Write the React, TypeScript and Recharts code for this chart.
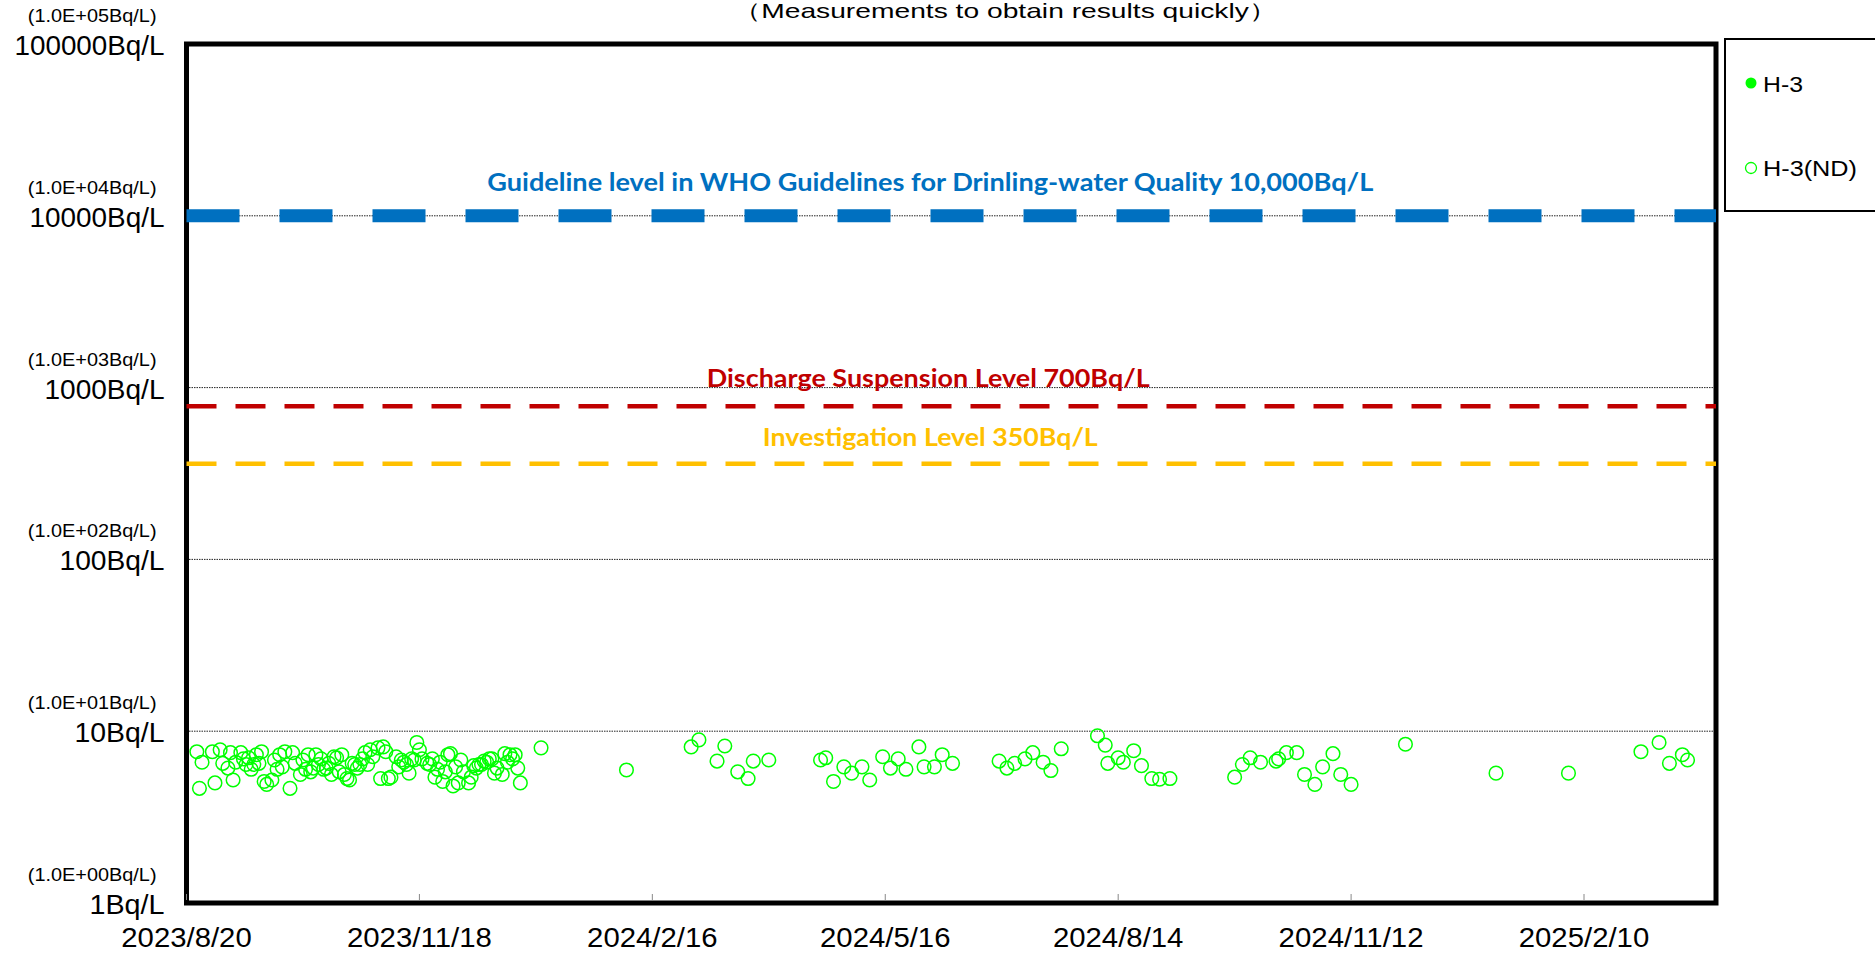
import React from "react";
import {
  ScatterChart,
  Scatter,
  XAxis,
  YAxis,
  CartesianGrid,
  ReferenceLine,
  ReferenceArea,
  Legend,
} from "recharts";

// H-3 (ND) results
const ND_DATES = [
  "2023/8/24", "2023/8/25", "2023/8/26", "2023/8/30", "2023/8/31",
  "2023/9/2", "2023/9/3", "2023/9/5", "2023/9/6", "2023/9/7", "2023/9/8", "2023/9/10", "2023/9/11",
  "2023/9/12", "2023/9/13", "2023/9/14", "2023/9/15", "2023/9/16", "2023/9/17", "2023/9/18", "2023/9/19",
  "2023/9/20", "2023/9/22", "2023/9/23", "2023/9/24", "2023/9/25", "2023/9/26", "2023/9/27", "2023/9/29", "2023/9/30",
  "2023/10/1", "2023/10/3", "2023/10/4", "2023/10/5", "2023/10/6", "2023/10/7", "2023/10/8", "2023/10/9",
  "2023/10/10", "2023/10/11", "2023/10/12", "2023/10/13", "2023/10/14", "2023/10/15", "2023/10/16", "2023/10/17",
  "2023/10/18", "2023/10/19", "2023/10/20", "2023/10/21", "2023/10/22", "2023/10/23", "2023/10/24", "2023/10/25",
  "2023/10/26", "2023/10/27", "2023/10/28", "2023/10/29", "2023/10/30", "2023/10/31",
  "2023/11/2", "2023/11/3", "2023/11/4", "2023/11/5", "2023/11/6", "2023/11/7", "2023/11/9", "2023/11/10",
  "2023/11/11", "2023/11/12", "2023/11/13", "2023/11/14", "2023/11/15", "2023/11/16", "2023/11/17", "2023/11/18",
  "2023/11/19", "2023/11/21", "2023/11/22", "2023/11/23", "2023/11/24", "2023/11/25", "2023/11/26", "2023/11/27",
  "2023/11/28", "2023/11/29", "2023/11/30",
  "2023/12/1", "2023/12/2", "2023/12/3", "2023/12/4", "2023/12/5", "2023/12/7", "2023/12/8", "2023/12/9",
  "2023/12/10", "2023/12/11", "2023/12/12", "2023/12/13", "2023/12/14", "2023/12/15", "2023/12/16", "2023/12/17",
  "2023/12/18", "2023/12/20", "2023/12/21", "2023/12/22", "2023/12/23", "2023/12/24", "2023/12/25", "2023/12/26",
  "2023/12/27", "2024/1/4",
  "2024/2/6", "2024/3/2", "2024/3/5", "2024/3/12", "2024/3/15", "2024/3/20", "2024/3/24", "2024/3/26",
  "2024/4/1", "2024/4/21", "2024/4/23", "2024/4/26", "2024/4/30",
  "2024/5/3", "2024/5/7", "2024/5/10", "2024/5/15", "2024/5/18", "2024/5/21", "2024/5/24", "2024/5/29", "2024/5/31",
  "2024/6/4", "2024/6/7", "2024/6/11", "2024/6/29",
  "2024/7/2", "2024/7/5", "2024/7/9", "2024/7/12", "2024/7/16", "2024/7/19", "2024/7/23",
  "2024/8/6", "2024/8/9", "2024/8/10", "2024/8/14", "2024/8/16", "2024/8/20", "2024/8/23", "2024/8/27", "2024/8/30",
  "2024/9/3", "2024/9/28",
  "2024/10/1", "2024/10/4", "2024/10/8", "2024/10/14", "2024/10/15", "2024/10/18", "2024/10/22", "2024/10/25", "2024/10/29",
  "2024/11/1", "2024/11/5", "2024/11/8", "2024/11/12", "2024/12/3",
  "2025/1/7", "2025/2/4", "2025/3/4", "2025/3/11", "2025/3/15", "2025/3/20", "2025/3/22",
];

const ND_VALUES = [
  7.6, 4.65, 6.6, 7.6, 5.0,
  7.8, 6.5, 6.1, 7.5, 5.2, 6.6, 7.5, 6.9,
  6.4, 7.0, 6.0, 6.4, 7.3, 6.5, 7.6, 5.1,
  4.9, 5.2, 6.8, 6.0, 7.3, 6.2, 7.6, 4.65, 7.5,
  6.5, 5.6, 6.8, 6.0, 7.3, 5.8, 6.1, 7.3,
  6.4, 6.9, 6.0, 6.1, 6.5, 5.6, 7.1, 7.0,
  5.8, 7.3, 5.6, 5.3, 5.2, 6.5, 6.4, 6.1,
  6.4, 6.9, 7.5, 6.4, 7.8, 7.1,
  8.0, 5.3, 8.1, 7.6, 5.3, 5.4, 7.1, 6.2,
  6.8, 6.6, 6.4, 5.7, 6.9, 6.8, 8.6, 7.8,
  6.9, 6.5, 6.4, 6.9, 5.4, 6.0, 6.6, 5.1,
  5.8, 7.3, 7.4,
  4.8, 6.2, 5.0, 6.8, 5.8, 5.0, 5.4, 6.3,
  6.1, 6.4, 6.4, 6.7, 6.6, 6.9, 6.9, 5.7,
  6.1, 5.6, 7.4, 6.6, 7.3, 6.9, 7.3, 6.1,
  5.0, 8.0,
  5.95, 8.1, 8.9, 6.7, 8.2, 5.8, 5.3, 6.7,
  6.8, 6.8, 7.0, 5.1, 6.2,
  5.7, 6.2, 5.2, 7.1, 6.1, 6.9, 6.0, 8.1, 6.2,
  6.2, 7.3, 6.5, 6.7,
  6.1, 6.5, 6.9, 7.5, 6.6, 5.9, 7.9,
  9.4, 8.3, 6.5, 7.0, 6.6, 7.7, 6.3, 5.3, 5.25,
  5.3, 5.4,
  6.4, 7.0, 6.6, 6.7, 6.9, 7.5, 7.5, 5.6, 4.9,
  6.2, 7.4, 5.6, 4.9, 8.4,
  5.7, 5.7, 7.6, 8.6, 6.5, 7.3, 6.8,
];

// H-3 detected: no points in this period
const H3_DATES: string[] = [];
const H3_VALUES: number[] = [];

const X_START = "2023/8/20";
const X_END = "2025/4/2";
const X_TICK_LABELS = ["2023/8/20", "2023/11/18", "2024/2/16", "2024/5/16", "2024/8/14", "2024/11/12", "2025/2/10"];

const Y_TICKS = [1, 10, 100, 1000, 10000, 100000];
const Y_TICK_LABELS = ["1Bq/L", "10Bq/L", "100Bq/L", "1000Bq/L", "10000Bq/L", "100000Bq/L"];
const Y_TICK_SCI = ["(1.0E+00Bq/L)", "(1.0E+01Bq/L)", "(1.0E+02Bq/L)", "(1.0E+03Bq/L)", "(1.0E+04Bq/L)", "(1.0E+05Bq/L)"];

const LEVEL_VALUES = [10000, 780, 360];
const LEVEL_LABELS = [
  "Guideline level in WHO Guidelines for Drinling-water Quality 10,000Bq/L",
  "Discharge Suspension Level 700Bq/L",
  "Investigation Level 350Bq/L",
];

const TITLE = "（Measurements to obtain results quickly）";

const SANS = "'Liberation Sans', Arial, sans-serif";
const LABEL_FONT = "Lato, 'Open Sans', sans-serif";
const GREEN = "#00ff00";

const toDay = (s: string) => {
  const [y, m, d] = s.split("/").map(Number);
  return Date.UTC(y, m - 1, d) / 86400000;
};

const ndData = ND_DATES.map((d, i) => ({ t: toDay(d), v: ND_VALUES[i] }));
const h3Data = H3_DATES.map((d, i) => ({ t: toDay(d), v: H3_VALUES[i] }));
const xTicks = X_TICK_LABELS.map(toDay);

// line styles for the three levels
const levelStyle = [
  { color: "#0070C0", width: 13, dash: "53 40", textW: 886, dx: -21, dy: -25 },
  { color: "#C00000", width: 4.5, dash: "30 19", textW: 443, dx: -23, dy: -19.5 },
  { color: "#FFC000", width: 4.5, dash: "30 19", textW: 335, dx: -21, dy: -18 },
];

function LevelLabel({ viewBox, text, color, textW, dx, dy }: any) {
  const cx = viewBox.x + viewBox.width / 2 + dx;
  return (
    <text
      x={cx}
      y={viewBox.y + dy}
      textAnchor="middle"
      fontFamily={LABEL_FONT}
      fontWeight={700}
      fontSize={24}
      fill={color}
      textLength={textW}
      lengthAdjust="spacingAndGlyphs"
    >
      {text}
    </text>
  );
}

// MS Gothic-like half-width cells: fixed width per character
const cellText = (s: string, cell: number) => s.length * cell;

function YTick({ x, y, payload }: any) {
  const i = Y_TICKS.indexOf(payload.value);
  const sci = Y_TICK_SCI[i];
  const lab = Y_TICK_LABELS[i];
  return (
    <g>
      <text
        x={x - 30}
        y={y - 22}
        textAnchor="end"
        fontFamily={SANS}
        fontSize={18}
        fill="#000"
        textLength={cellText(sci, 9.9)}
        lengthAdjust="spacingAndGlyphs"
      >
        {sci}
      </text>
      <text
        x={x - 22}
        y={y + 11}
        textAnchor="end"
        fontFamily={SANS}
        fontSize={27}
        fill="#000"
        textLength={cellText(lab, 15)}
        lengthAdjust="spacingAndGlyphs"
      >
        {lab}
      </text>
    </g>
  );
}

function XTick({ x, y, payload }: any) {
  const i = xTicks.indexOf(payload.value);
  const lab = X_TICK_LABELS[i];
  return (
    <g>
      <line x1={x} x2={x} y1={y - 3} y2={y - 9} stroke="#888" strokeWidth={1} />
      <text
        x={x}
        y={y + 44}
        textAnchor="middle"
        fontFamily={SANS}
        fontSize={27}
        fill="#000"
        textLength={cellText(lab, 14.5)}
        lengthAdjust="spacingAndGlyphs"
      >
        {lab}
      </text>
    </g>
  );
}

const OpenCircle = (p: any) => (
  <circle cx={p.cx} cy={p.cy} r={6.8} fill="none" stroke={GREEN} strokeWidth={1.5} />
);
const FilledCircle = (p: any) => <circle cx={p.cx} cy={p.cy} r={6.8} fill={GREEN} />;

function LegendBox() {
  return (
    <svg width={170} height={176} style={{ display: "block" }}>
      <rect x={1} y={1} width={200} height={172} fill="#fff" stroke="#000" strokeWidth={2} />
      <circle cx={27} cy={45} r={5.5} fill={GREEN} />
      <text x={39} y={54} fontFamily={SANS} fontSize={22} fill="#000" textLength={40} lengthAdjust="spacingAndGlyphs">
        H-3
      </text>
      <circle cx={27} cy={130} r={5.5} fill="none" stroke={GREEN} strokeWidth={1.3} />
      <text x={39} y={138} fontFamily={SANS} fontSize={22} fill="#000" textLength={94} lengthAdjust="spacingAndGlyphs">
        H-3(ND)
      </text>
    </svg>
  );
}

export default function App() {
  const x0 = toDay(X_START);
  const x1 = toDay(X_END);
  return (
    <div style={{ position: "absolute", left: 0, top: 0, width: 1875, height: 953, background: "#fff", overflow: "hidden" }}>
      <svg width={1875} height={40} style={{ position: "absolute", left: 0, top: 0 }}>
        <text
          x={1005}
          y={18}
          textAnchor="middle"
          fontFamily={SANS}
          fontSize={21}
          fill="#000"
          textLength={544}
          lengthAdjust="spacingAndGlyphs"
        >
          {TITLE}
        </text>
      </svg>
      <ScatterChart width={1875} height={953} margin={{ top: 44, right: 159, bottom: 0, left: 0 }}>
        <CartesianGrid vertical={false} stroke="#222" strokeDasharray="1.5 1" strokeWidth={1} />
        <XAxis
          type="number"
          dataKey="t"
          domain={[x0, x1]}
          ticks={xTicks}
          allowDataOverflow
          height={50}
          tickSize={0}
          tickMargin={0}
          axisLine={false}
          tickLine={false}
          tick={<XTick />}
        />
        <YAxis
          type="number"
          dataKey="v"
          scale="log"
          domain={[1, 100000]}
          ticks={Y_TICKS}
          allowDataOverflow
          width={186.5}
          tickSize={0}
          tickMargin={0}
          axisLine={false}
          tickLine={false}
          tick={<YTick />}
        />
        {LEVEL_VALUES.map((v, i) => (
          <ReferenceLine
            key={v}
            y={v}
            stroke={levelStyle[i].color}
            strokeWidth={levelStyle[i].width}
            strokeDasharray={levelStyle[i].dash}
            ifOverflow="visible"
            label={
              <LevelLabel
                text={LEVEL_LABELS[i]}
                color={levelStyle[i].color}
                textW={levelStyle[i].textW}
                dx={levelStyle[i].dx}
                dy={levelStyle[i].dy}
              />
            }
          />
        ))}
        <ReferenceArea
          x1={x0}
          x2={x1}
          y1={1}
          y2={100000}
          fill="none"
          fillOpacity={0}
          stroke="#000"
          strokeWidth={5}
          ifOverflow="visible"
        />
        <Scatter name="H-3" data={h3Data} fill={GREEN} shape={FilledCircle} isAnimationActive={false} />
        <Scatter name="H-3(ND)" data={ndData} fill="none" stroke={GREEN} shape={OpenCircle} isAnimationActive={false} />
        <Legend
          layout="vertical"
          align="center"
          verticalAlign="middle"
          wrapperStyle={{ left: 1724, top: 38, width: 170, height: 176 }}
          content={() => <LegendBox />}
        />
      </ScatterChart>
    </div>
  );
}
